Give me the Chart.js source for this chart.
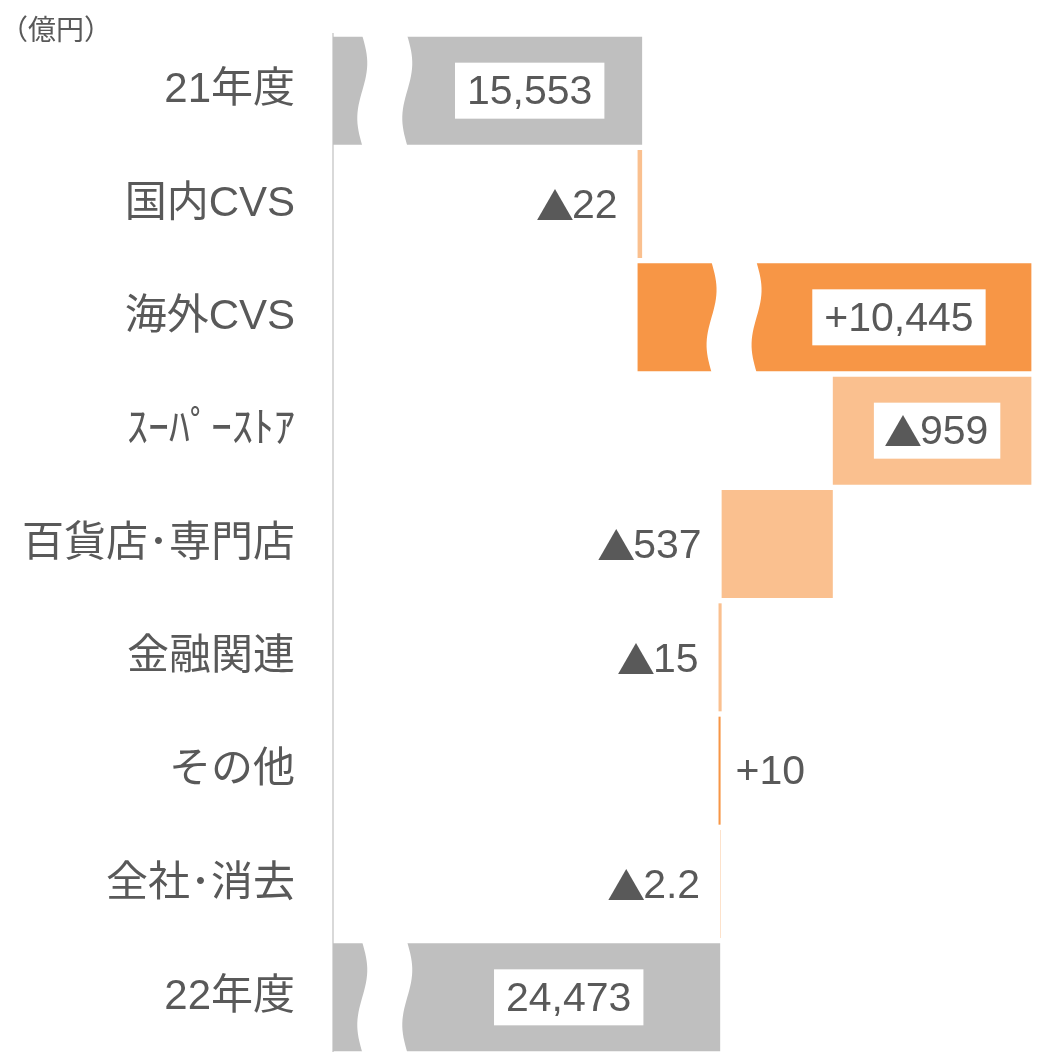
<!DOCTYPE html>
<html>
<head>
<meta charset="utf-8">
<script src="https://cdn.jsdelivr.net/npm/chart.js@4.4.1/dist/chart.umd.min.js"></script>
<style>
  html, body { margin: 0; padding: 0; background: #fff; overflow: hidden; }
  canvas { display: block; }
</style>
</head>
<body>
<canvas id="waterfall" width="1038" height="1055"></canvas>
<script>
// BEGIN data
let categories = ['21年度', '国内CVS', '海外CVS', 'ｽｰﾊﾟｰｽﾄｱ', '百貨店･専門店', '金融関連', 'その他', '全社･消去', '22年度'];
let startTotal = 15553;
let changes = [-22, 10445, -959, -537, -15, 10, -2.2];
let endTotal = 24473;
let unitLabel = '（億円）';
// END data

let FONT = '"Liberation Sans", "Noto Sans CJK JP", sans-serif';
let MARK_FONT = '"Noto Sans CJK JP", sans-serif';
let TEXT_COLOR = '#595959';
let colors = {
  total: '#BFBFBF',
  up: '#F79646',
  down: '#FAC08F'
};

// broken axis: value ranges cut out of the axis (shown as wavy gaps on the bars)
let axisCuts = [[250, 14310], [15600, 24143]];
let wavesAt = { 0: 250, 2: 24540, 8: 250 };

function toAxis(v){
  let d = v;
  axisCuts.forEach(function(c){ if (v >= c[1]) { d -= (c[1] - c[0]); } });
  return d;
}

function fmt(v){
  return Math.abs(v).toLocaleString('en-US', {maximumFractionDigits: 1});
}

// BEGIN build waterfall
let bars = [];
let barColors = [];
let labels = [];
let running = startTotal;
bars.push([toAxis(0), toAxis(startTotal)]);
barColors.push(colors.total);
labels.push({ mark: '', text: fmt(startTotal), dir: 1 });
changes.forEach(function(c){
  let next = running + c;
  bars.push([toAxis(running), toAxis(next)]);
  barColors.push(c < 0 ? colors.down : colors.up);
  labels.push({ mark: c < 0 ? '▲' : '', text: (c < 0 ? '' : '+') + fmt(c), dir: c < 0 ? -1 : 1 });
  running = next;
});
bars.push([toAxis(0), toAxis(endTotal)]);
barColors.push(colors.total);
labels.push({ mark: '', text: fmt(endTotal), dir: 1 });
// END build waterfall

function wavePath(ctx, cx, top, bottom, half, amp){
  let steps = 30;
  ctx.beginPath();
  for (let i = 0; i <= steps; i++){
    let t = i / steps;
    let y = top + (bottom - top) * t;
    let x = cx - half + amp * Math.sin(2 * Math.PI * t);
    if (i === 0) ctx.moveTo(x, y); else ctx.lineTo(x, y);
  }
  for (let i = steps; i >= 0; i--){
    let t = i / steps;
    let y = top + (bottom - top) * t;
    let x = cx + half + amp * Math.sin(2 * Math.PI * t);
    ctx.lineTo(x, y);
  }
  ctx.closePath();
}

// width of a label made of a ▲ mark (CJK font) plus the number
function labelWidth(ctx, lab){
  ctx.font = '38px ' + MARK_FONT;
  let mw = lab.mark ? ctx.measureText(lab.mark).width - 4 : 0;
  ctx.font = '41px ' + FONT;
  return { mark: mw, total: mw + ctx.measureText(lab.text).width };
}

function drawLabel(ctx, lab, x, y){
  // x is left edge
  ctx.textAlign = 'left';
  ctx.fillStyle = TEXT_COLOR;
  let w = labelWidth(ctx, lab);
  if (lab.mark) {
    ctx.font = '38px ' + MARK_FONT;
    ctx.fillText(lab.mark, x - 2, y - 1);
  }
  ctx.font = '41px ' + FONT;
  ctx.fillText(lab.text, x + w.mark, y);
}

let waterfallPlugin = {
  id: 'waterfallDecor',
  afterDatasetsDraw: function(chart){
    let ctx = chart.ctx;
    let meta = chart.getDatasetMeta(0);
    let xScale = chart.scales.x;
    ctx.save();

    // wavy breaks
    Object.keys(wavesAt).forEach(function(k){
      let el = meta.data[k];
      let cx = xScale.getPixelForValue(toAxis(wavesAt[k]));
      let top = el.y - el.height / 2 - 1;
      let bottom = el.y + el.height / 2 + 1;
      ctx.fillStyle = '#FFFFFF';
      wavePath(ctx, cx, top, bottom, 22.5, 5);
      ctx.fill();
    });

    // value labels
    ctx.textBaseline = 'middle';
    meta.data.forEach(function(el, i){
      let lab = labels[i];
      let left = Math.min(el.x, el.base);
      let right = Math.max(el.x, el.base);
      if (wavesAt[i] !== undefined) {
        left = xScale.getPixelForValue(toAxis(wavesAt[i])) + 22.5;
      }
      let w = labelWidth(ctx, lab).total;
      if (right - left > 150) {
        let cx = (left + right) / 2 + 5;
        let bw = w + 24, bh = 56;
        ctx.fillStyle = '#FFFFFF';
        ctx.fillRect(cx - bw / 2, el.y - bh / 2, bw, bh);
        drawLabel(ctx, lab, cx - w / 2, el.y + 2);
      } else if (lab.dir < 0) {
        drawLabel(ctx, lab, left - 20 - w, el.y + 3);
      } else {
        drawLabel(ctx, lab, right + 15, el.y + 2);
      }
    });

    // unit
    ctx.font = '28px ' + MARK_FONT;
    ctx.textAlign = 'left';
    ctx.fillStyle = TEXT_COLOR;
    ctx.fillText(unitLabel, 0, 29);
    ctx.restore();
  }
};

let chart = new Chart(document.getElementById('waterfall'), {
  type: 'bar',
  data: {
    labels: categories,
    datasets: [{
      data: bars,
      backgroundColor: barColors,
      borderWidth: 0,
      barPercentage: 0.953,
      categoryPercentage: 1
    }]
  },
  options: {
    indexAxis: 'y',
    responsive: false,
    animation: false,
    layout: { padding: { top: 34, bottom: 1, left: 0, right: 0 } },
    plugins: {
      legend: { display: false },
      tooltip: { enabled: false }
    },
    scales: {
      x: {
        display: false,
        min: 0,
        max: 3405
      },
      y: {
        afterFit: function(scale){
          scale.width = 333;
          scale.paddingTop = 0;
          scale.paddingBottom = 0;
        },
        grid: { display: false, drawTicks: false },
        border: { display: true, color: '#D9D9D9', width: 2 },
        ticks: {
          padding: 38,
          color: TEXT_COLOR,
          font: { size: 42, family: FONT }
        }
      }
    }
  },
  plugins: [waterfallPlugin]
});
</script>
</body>
</html>
